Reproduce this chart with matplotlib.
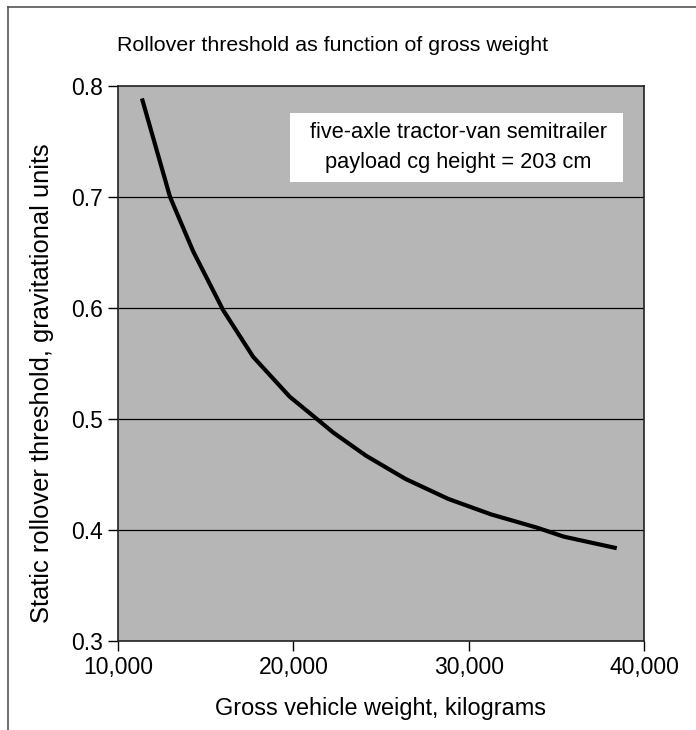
import matplotlib
matplotlib.use("Agg")
import matplotlib.pyplot as plt
from matplotlib.patches import Rectangle
from matplotlib.ticker import FuncFormatter
from matplotlib.lines import Line2D

plt.rcParams['font.family'] = ['Liberation Sans', 'DejaVu Sans']

# Gross vehicle weight (kg) vs static rollover threshold (g)
weight = [11400, 12970, 14290, 16000, 17710, 19800, 21500, 22260, 24140,
          26400, 28840, 31290, 32610, 33920, 35430, 38330]
threshold = [0.787, 0.700, 0.651, 0.598, 0.556, 0.520, 0.498, 0.488, 0.467,
             0.446, 0.428, 0.414, 0.408, 0.402, 0.394, 0.384]
yticks = [0.3, 0.4, 0.5, 0.6, 0.7, 0.8]
xticks = [10000, 20000, 30000, 40000]
note_lines = ['five-axle tractor-van semitrailer', 'payload cg height = 203 cm']

fig = plt.figure(figsize=(6.96, 7.30), dpi=100)
ax = fig.add_axes([0.1695, 0.1219, 0.7558, 0.7603])
ax.set_facecolor('#b6b6b6')

for y in yticks[1:-1]:
    ax.axhline(y, color='black', lw=0.9, zorder=1)

ax.plot(weight, threshold, color='black', lw=3, zorder=3, solid_joinstyle='round')

ax.set_xlim(10000, 40000)
ax.set_ylim(0.3, 0.8)
ax.set_xticks(xticks)
ax.set_yticks(yticks)
ax.xaxis.set_major_formatter(FuncFormatter(lambda v, p: f"{int(v):,}"))
ax.tick_params(axis='both', direction='out', length=7, width=1, labelsize=16.5, colors='black')
ax.tick_params(axis='x', pad=4)
ax.tick_params(axis='y', pad=4)
for s in ax.spines.values():
    s.set_color('#222222')
    s.set_linewidth(1.2)

# annotation box (data coords)
ax.add_patch(Rectangle((19800, 0.7135), 19000, 0.0622, facecolor='white',
                       edgecolor='none', zorder=4))
ax.text(29410, 0.7577, note_lines[0], ha='center', va='center', fontsize=15.7, zorder=5)
ax.text(29410, 0.7315, note_lines[1], ha='center', va='center', fontsize=15.7, zorder=5)

fig.text(0.4784, 0.938, 'Rollover threshold as function of gross weight',
         ha='center', va='center', fontsize=15.4)
ax.set_xlabel('Gross vehicle weight, kilograms', fontsize=16.9, labelpad=13)
ax.set_ylabel('Static rollover threshold, gravitational units', fontsize=18.4)
ax.yaxis.set_label_coords(-0.122, 0.465)

# outer frame (left and top edges)
fig.add_artist(Line2D([0.011, 0.011], [0.0, 0.99], color='#555555', lw=1.2))
fig.add_artist(Line2D([0.011, 1.0], [0.99, 0.99], color='#555555', lw=1.2))

fig.savefig('out.png', dpi=100)
